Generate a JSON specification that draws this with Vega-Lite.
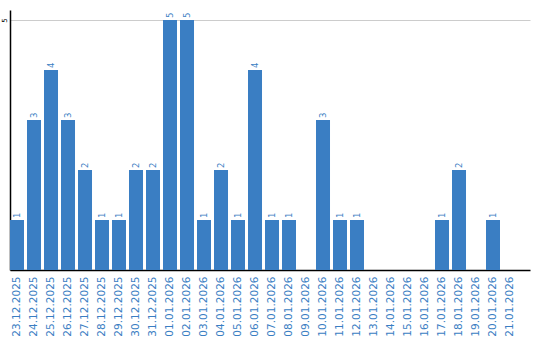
{
  "$schema": "https://vega.github.io/schema/vega-lite/v6.json",
  "width": 520,
  "height": 260,
  "autosize": {"type": "none"},
  "padding": {"left": 10, "top": 10, "right": 10, "bottom": 70},
  "background": "white",
  "data": {"values": [
    {"d": "23.12.2025", "v": 1}, {"d": "24.12.2025", "v": 3}, {"d": "25.12.2025", "v": 4},
    {"d": "26.12.2025", "v": 3}, {"d": "27.12.2025", "v": 2}, {"d": "28.12.2025", "v": 1},
    {"d": "29.12.2025", "v": 1}, {"d": "30.12.2025", "v": 2}, {"d": "31.12.2025", "v": 2},
    {"d": "01.01.2026", "v": 5}, {"d": "02.01.2026", "v": 5}, {"d": "03.01.2026", "v": 1},
    {"d": "04.01.2026", "v": 2}, {"d": "05.01.2026", "v": 1}, {"d": "06.01.2026", "v": 4},
    {"d": "07.01.2026", "v": 1}, {"d": "08.01.2026", "v": 1}, {"d": "09.01.2026", "v": 0},
    {"d": "10.01.2026", "v": 3}, {"d": "11.01.2026", "v": 1}, {"d": "12.01.2026", "v": 1},
    {"d": "13.01.2026", "v": 0}, {"d": "14.01.2026", "v": 0}, {"d": "15.01.2026", "v": 0},
    {"d": "16.01.2026", "v": 0}, {"d": "17.01.2026", "v": 1}, {"d": "18.01.2026", "v": 2},
    {"d": "19.01.2026", "v": 0}, {"d": "20.01.2026", "v": 1}, {"d": "21.01.2026", "v": 0}
  ]},
  "config": {"view": {"stroke": null}, "font": "DejaVu Sans"},
  "encoding": {
    "x": {
      "field": "d", "type": "ordinal", "sort": null,
      "scale": {"paddingInner": 0.176, "paddingOuter": 0.382, "align": 0},
      "axis": {
        "title": null, "labelAngle": -90, "labelAlign": "right", "labelBaseline": "middle",
        "labelColor": "#3a7ec3", "labelFont": "DejaVu Sans", "labelFontSize": 10.5,
        "labelPadding": 6, "ticks": false, "domainColor": "#000", "domainWidth": 1.5, "labelFlush": false
      }
    },
    "y": {
      "field": "v", "type": "quantitative",
      "scale": {"domain": [0, 5.2], "nice": false},
      "axis": {
        "title": null, "values": [5], "ticks": false, "grid": true, "gridColor": "#cccccc",
        "domainColor": "#000", "domainWidth": 1.5, "labelAngle": 270, "labelAlign": "center",
        "labelBaseline": "bottom", "labelPadding": 3, "labelFontSize": 7, "labelColor": "#000"
      }
    }
  },
  "layer": [
    {"mark": {"type": "bar", "color": "#3a7ec3"}},
    {
      "transform": [{"filter": "datum.v > 0"}],
      "mark": {"type": "text", "angle": 270, "align": "left", "baseline": "middle", "dx": 2, "fontSize": 8.5, "color": "#3a7ec3", "font": "DejaVu Sans"},
      "encoding": {"text": {"field": "v", "type": "quantitative"}}
    }
  ]
}
